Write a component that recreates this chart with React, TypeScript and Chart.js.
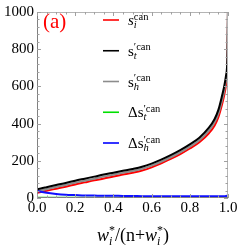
import React, { useEffect, useRef } from "react";
import { Chart, registerables } from "chart.js";

Chart.register(...registerables);

const xs = [0, 0.02, 0.05, 0.1, 0.15, 0.2, 0.25, 0.3, 0.35, 0.4, 0.45, 0.5, 0.55, 0.6, 0.65, 0.7, 0.75, 0.8, 0.85, 0.9, 0.93, 0.95, 0.97, 0.98, 0.99, 0.995, 0.998, 1.0];
const sI = [28, 32, 39, 50, 61, 73, 84, 95, 105, 116, 126, 136, 148, 165, 187, 210, 236, 266, 300, 348, 390, 436, 508, 552, 610, 655, 745, 1030];
const sT = [47, 51, 58, 70, 81, 93, 104, 115, 126, 136, 146, 156, 168, 185, 206, 230, 257, 288, 324, 378, 425, 475, 555, 600, 660, 705, 800, 1050];
const sH = [36, 40, 47, 59, 70, 82, 93, 104, 115, 125, 135, 145, 157, 174, 195, 219, 245, 276, 311, 362, 407, 455, 530, 575, 635, 680, 770, 1040];
const dT = [2, 2, 2, 2, 2, 2, 2, 2, 2, 2, 2, 2, 2, 2, 2, 2, 2, 2, 2, 2, 2, 2, 3, 3, 3, 4, 5, 8];
const dH = [40, 34, 28, 22, 18, 16, 14, 13, 12, 12, 11, 11, 10, 10, 10, 10, 10, 9, 9, 9, 9, 9, 10, 10, 11, 12, 14, 18];
const yTicks = [0, 200, 400, 600, 800, 1000];
const xTicks = [0, 0.2, 0.4, 0.6, 0.8, 1.0];

const SERIF = '"Liberation Serif", "Times New Roman", serif';

type Piece = { base: string; baseItalic?: boolean; sub?: string; sup?: string };

const legendItems: { color: string; pieces: Piece[] }[] = [
  { color: "#ff0000", pieces: [{ base: "s", baseItalic: true, sub: "i", sup: "can" }] },
  { color: "#000000", pieces: [{ base: "s", sub: "t", sup: "\u2032can" }] },
  { color: "#8c8c8c", pieces: [{ base: "s", sub: "h", sup: "\u2032can" }] },
  { color: "#00e000", pieces: [{ base: "\u0394" }, { base: "s", sub: "t", sup: "\u2032can" }] },
  { color: "#0000ff", pieces: [{ base: "\u0394" }, { base: "s", sub: "h", sup: "\u2032can" }] },
];

function drawPieces(ctx: CanvasRenderingContext2D, pieces: Piece[], x: number, baseline: number, size: number, small: number, supDy: number, subDy: number, measureOnly = false): number {
  let cx = x;
  for (const p of pieces) {
    ctx.font = `${p.baseItalic ? "italic " : ""}${size}px ${SERIF}`;
    if (!measureOnly) ctx.fillText(p.base, cx, baseline);
    cx += ctx.measureText(p.base).width;
    let w = 0;
    if (p.sub) {
      ctx.font = `italic ${small}px ${SERIF}`;
      if (!measureOnly) ctx.fillText(p.sub, cx, baseline + subDy);
      w = Math.max(w, ctx.measureText(p.sub).width);
    }
    if (p.sup) {
      ctx.font = `${small}px ${SERIF}`;
      if (!measureOnly) ctx.fillText(p.sup, cx, baseline - supDy);
      w = Math.max(w, ctx.measureText(p.sup).width);
    }
    cx += w;
  }
  return cx - x;
}

const overlay = {
  id: "overlay",
  afterDatasetsDraw(chart: any) {
    const ctx: CanvasRenderingContext2D = chart.ctx;
    const { left, right, top, bottom } = chart.chartArea;
    const xs_ = chart.scales.x;
    const ys_ = chart.scales.y;
    ctx.save();
    ctx.lineWidth = 1;
    ctx.strokeStyle = "#b4b4b4";
    ctx.beginPath();
    ctx.moveTo(left, top + 0.5);
    ctx.lineTo(right, top + 0.5);
    ctx.moveTo(right - 0.5, top);
    ctx.lineTo(right - 0.5, bottom);
    ctx.stroke();
    ctx.strokeStyle = "#808080";
    ctx.beginPath();
    ctx.moveTo(left + 0.5, top);
    ctx.lineTo(left + 0.5, bottom);
    ctx.moveTo(left, bottom - 0.5);
    ctx.lineTo(right, bottom - 0.5);
    ctx.stroke();
    ctx.strokeStyle = "#a0a0a0";
    ctx.beginPath();
    for (let v = 0; v <= 1000; v += 40) {
      const y = Math.round(ys_.getPixelForValue(v)) + 0.5;
      const major = v % 200 === 0;
      const len = major ? 4 : 2.5;
      ctx.moveTo(left, y);
      ctx.lineTo(left + len, y);
      ctx.moveTo(right, y);
      ctx.lineTo(right - len, y);
    }
    for (let i = 0; i <= 20; i++) {
      const v = i * 0.05;
      const x = Math.round(xs_.getPixelForValue(v)) + 0.5;
      const major = i % 4 === 0;
      const len = major ? 4 : 2.5;
      ctx.moveTo(x, bottom);
      ctx.lineTo(x, bottom - len);
      ctx.moveTo(x, top);
      ctx.lineTo(x, top + len);
    }
    ctx.stroke();
    ctx.restore();
  },
  afterDraw(chart: any) {
    const ctx: CanvasRenderingContext2D = chart.ctx;
    ctx.save();
    ctx.textBaseline = "alphabetic";
    ctx.textAlign = "left";
    ctx.fillStyle = "#ff0000";
    ctx.font = `21px ${SERIF}`;
    ctx.fillText("(a)", 43, 28);
    legendItems.forEach((it, i) => {
      const ly = 20 + i * 30.75;
      ctx.strokeStyle = it.color;
      ctx.lineWidth = 1.6;
      ctx.beginPath();
      ctx.moveTo(103, ly);
      ctx.lineTo(119, ly);
      ctx.stroke();
      ctx.fillStyle = "#000";
      drawPieces(ctx, it.pieces, 128, ly + 5, 15, 10.5, 5.5, 3);
    });
    const title: Piece[] = [
      { base: "w", baseItalic: true, sub: "i", sup: "*" },
      { base: "/(n+" },
      { base: "w", baseItalic: true, sub: "i", sup: "*" },
      { base: ")" },
    ];
    ctx.fillStyle = "#000";
    const w = drawPieces(ctx, title, 0, 0, 18, 12, 7, 4, true);
    drawPieces(ctx, title, 133 - w / 2, 241, 18, 12, 7, 4);
    ctx.restore();
  },
};

export default function App() {
  const ref = useRef<HTMLCanvasElement>(null);
  useEffect(() => {
    if (!ref.current) return;
    const mk = (data: number[], color: string, width: number) => ({
      data: xs.map((x, i) => ({ x, y: data[i] })),
      borderColor: color,
      backgroundColor: color,
      borderWidth: width,
      pointRadius: 0,
      showLine: true,
      fill: false,
      cubicInterpolationMode: "monotone" as const,
    });
    const chart = new Chart(ref.current, {
      type: "scatter",
      data: {
        datasets: [
          mk(dH, "#1010ff", 2),
          mk(dT, "#00dd00", 2),
          mk(sT, "#000000", 2),
          mk(sH, "#8c8c8c", 2),
          mk(sI, "#ff0000", 2),
        ],
      },
      options: {
        animation: false,
        responsive: false,
        events: [],
        layout: { padding: { left: 0, right: 12, top: 7, bottom: 0 } },
        plugins: { legend: { display: false }, tooltip: { enabled: false }, title: { display: false } },
        scales: {
          x: {
            type: "linear",
            min: 0,
            max: 1,
            afterBuildTicks: (s: any) => { s.ticks = xTicks.map((v) => ({ value: v })); },
            afterFit: (s: any) => { s.height = 49; },
            grid: { display: false, drawTicks: false },
            border: { display: false },
            ticks: {
              padding: 1,
              color: "#000",
              font: { family: SERIF, size: 15 },
              callback: (v: any) => Number(v).toFixed(1),
              maxRotation: 0,
              autoSkip: false,
            },
          },
          y: {
            type: "linear",
            min: 0,
            max: 1000,
            afterBuildTicks: (s: any) => { s.ticks = yTicks.map((v) => ({ value: v })); },
            afterFit: (s: any) => { s.width = 37; },
            grid: { display: false, drawTicks: false },
            border: { display: false },
            ticks: {
              padding: 3,
              color: "#000",
              font: { family: SERIF, size: 15 },
              callback: (v: any) => String(v),
              autoSkip: false,
            },
          },
        },
      },
      plugins: [overlay],
    });
    return () => chart.destroy();
  }, []);
  return (
    <div style={{ position: "fixed", left: 0, top: 0, width: 240, height: 247, background: "#fff" }}>
      <canvas ref={ref} width={240} height={247} style={{ display: "block", width: 240, height: 247 }} />
    </div>
  );
}
